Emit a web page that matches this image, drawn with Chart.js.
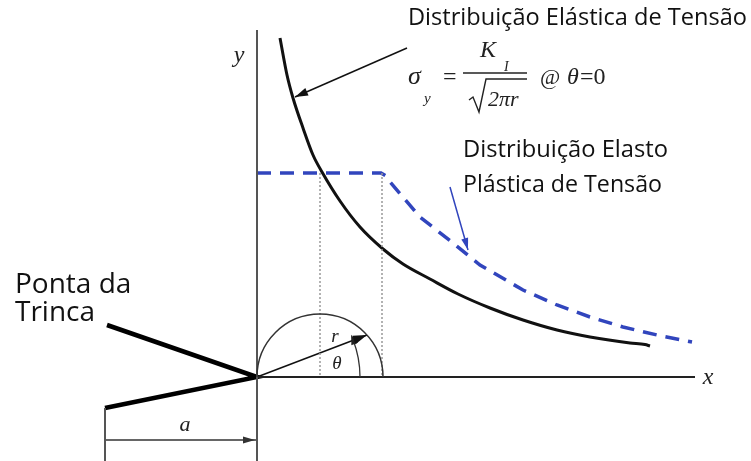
<!DOCTYPE html>
<html>
<head>
<meta charset="utf-8">
<script src="https://cdn.jsdelivr.net/npm/chart.js@4.4.0/dist/chart.umd.min.js"></script>
<style>
  html, body { margin: 0; padding: 0; background: #fff; }
</style>
</head>
<body>
<canvas id="chart" width="751" height="461"></canvas>
<script>
// stress ahead of the crack tip, x = distance from tip, y = stress
const elasticX = [2.3, 3.0, 3.6, 4.6, 5.6, 6.5, 8.3, 10.3, 12.6, 14.6, 17.3, 20.1, 23.3, 26.6, 30.0, 33.3, 37.3, 38.8, 39.3]
const elasticY = [33.9, 30.2, 27.9, 24.9, 22.2, 20.5, 17.6, 15.0, 12.8, 11.3, 9.8, 8.3, 6.9, 5.7, 4.7, 4.0, 3.4, 3.25, 3.1]
const plasticX = [0, 12.4, 12.9, 13.3, 16.3, 19.6, 22.3, 26.6, 30.0, 33.3, 36.6, 40.0, 43.5]
const plasticY = [20.4, 20.4, 20.1, 19.5, 16.0, 13.4, 11.2, 8.7, 7.2, 6.0, 5.0, 4.2, 3.5]

// geometry of the crack and the plastic zone
const crackLength = 15.2
const crackOpening = [5.2, -3.1]
const yieldStress = 20.4
const plasticRadius = 6.3
const plasticZone = 12.5
const rayEnd = [11.0, 4.2]
const xAxisEnd = 43.8
const yAxisTop = 34.7

const toPoints = (xs, ys) => xs.map((x, i) => ({ x, y: ys[i] }))

const BLUE = "#3145bd"

const seg = (data, color, width, extra = {}) => ({
  data,
  borderColor: color,
  borderWidth: width,
  pointRadius: 0,
  showLine: true,
  fill: false,
  tension: 0,
  ...extra,
})

const arrowHead = (ctx, fx, fy, tx, ty, len, half, color) => {
  const a = Math.atan2(ty - fy, tx - fx)
  ctx.save()
  ctx.fillStyle = color
  ctx.beginPath()
  ctx.moveTo(tx, ty)
  ctx.lineTo(tx - len * Math.cos(a) + half * Math.sin(a), ty - len * Math.sin(a) - half * Math.cos(a))
  ctx.lineTo(tx - len * Math.cos(a) - half * Math.sin(a), ty - len * Math.sin(a) + half * Math.cos(a))
  ctx.closePath()
  ctx.fill()
  ctx.restore()
}

const annotations = {
  id: "annotations",
  afterDatasetsDraw(chart) {
    const { ctx } = chart
    const sx = chart.scales.x
    const sy = chart.scales.y
    const px = (v) => sx.getPixelForValue(v)
    const py = (v) => sy.getPixelForValue(v)
    const ox = px(0)
    const oy = py(0)

    // plastic zone circle
    ctx.save()
    ctx.strokeStyle = "#333"
    ctx.lineWidth = 1.5
    ctx.beginPath()
    ctx.arc(px(plasticRadius), oy, px(plasticRadius) - ox, Math.PI, 2 * Math.PI)
    ctx.stroke()

    // theta arc
    const ang = Math.atan2(rayEnd[1], rayEnd[0])
    const R = px(10.3) - ox
    ctx.lineWidth = 1.3
    ctx.beginPath()
    ctx.arc(ox, oy, R, 0, -ang, true)
    ctx.stroke()
    ctx.restore()
    const ex = ox + R * Math.cos(ang)
    const ey = oy - R * Math.sin(ang)
    arrowHead(ctx, ex + Math.sin(ang) * 4, ey + Math.cos(ang) * 4, ex - Math.sin(ang) * 6, ey - Math.cos(ang) * 6, 10, 3.5, "#222")

    // arrow heads
    arrowHead(ctx, ox, oy, px(rayEnd[0]), py(rayEnd[1]), 14, 4.5, "#111")
    arrowHead(ctx, px(-crackLength), py(-6.3), ox - 2, py(-6.3), 12, 3.5, "#333")
    arrowHead(ctx, px(15.0), py(32.9), px(3.8), py(28.0), 13, 4, "#111")
    arrowHead(ctx, px(19.3), py(19.0), px(21.1), py(12.7), 12, 3.5, BLUE)

    // italic symbols
    ctx.save()
    ctx.fillStyle = "#222"
    ctx.textAlign = "center"
    ctx.textBaseline = "middle"
    ctx.font = "italic 24px 'Liberation Serif'"
    ctx.fillText("y", px(-1.8), py(32.1))
    ctx.fillText("x", px(45.1), py(-0.1))
    ctx.font = "italic 22px 'Liberation Serif'"
    ctx.fillText("a", px(-7.2), py(-4.8))
    ctx.font = "italic 19px 'Liberation Serif'"
    ctx.fillText("r", px(7.8), py(4.0))
    ctx.fillText("θ", px(8.0), py(1.3))
    ctx.restore()

    // text labels
    ctx.save()
    ctx.fillStyle = "#111"
    ctx.textAlign = "left"
    ctx.textBaseline = "alphabetic"
    ctx.font = "24px 'Open Sans'"
    ctx.fillText("Distribuição Elástica de Tensão", px(15.1), py(35.2), 339)
    ctx.fillText("Distribuição Elasto", px(20.6), py(22.0), 205)
    ctx.fillText("Plástica de Tensão", px(20.6), py(18.5), 199)
    ctx.font = "28px 'Open Sans'"
    ctx.fillText("Ponta da", px(-24.2), py(8.4), 123)
    ctx.fillText("Trinca", px(-24.2), py(5.6), 86)
    ctx.restore()

    // elastic stress formula
    const ax = px(15.1)
    const ay = py(29.3)
    ctx.save()
    ctx.fillStyle = "#222"
    ctx.strokeStyle = "#222"
    ctx.textAlign = "left"
    ctx.textBaseline = "alphabetic"
    ctx.font = "italic 26px 'Liberation Serif'"
    ctx.fillText("σ", ax, ay)
    ctx.font = "italic 15px 'Liberation Serif'"
    ctx.fillText("y", ax + 16, ay + 19)
    ctx.font = "24px 'Liberation Serif'"
    ctx.fillText("=", ax + 35, ay)
    ctx.lineWidth = 1.3
    ctx.beginPath()
    ctx.moveTo(ax + 55, ay - 11)
    ctx.lineTo(ax + 119, ay - 11)
    ctx.stroke()
    ctx.font = "italic 24px 'Liberation Serif'"
    ctx.fillText("K", ax + 72, ay - 27)
    ctx.font = "italic 14px 'Liberation Serif'"
    ctx.fillText("I", ax + 96, ay - 13)
    ctx.lineWidth = 1.4
    ctx.beginPath()
    ctx.moveTo(ax + 61, ay + 16)
    ctx.lineTo(ax + 65, ay + 13)
    ctx.lineTo(ax + 71, ay + 28)
    ctx.lineTo(ax + 78, ay - 5)
    ctx.lineTo(ax + 119, ay - 5)
    ctx.stroke()
    ctx.font = "italic 22px 'Liberation Serif'"
    ctx.fillText("2πr", ax + 80, ay + 22)
    ctx.font = "22px 'Liberation Serif'"
    ctx.fillText("@", ax + 132, ay)
    ctx.font = "italic 24px 'Liberation Serif'"
    ctx.fillText("θ", ax + 159, ay)
    ctx.font = "24px 'Liberation Serif'"
    ctx.fillText("=0", ax + 172, ay)
    ctx.restore()
  },
}

new Chart(document.getElementById("chart"), {
  type: "scatter",
  data: {
    datasets: [
      seg([{ x: 0, y: yAxisTop }, { x: 0, y: -8.4 }], "#555", 2),
      seg([{ x: 0, y: 0 }, { x: xAxisEnd, y: 0 }], "#222", 2),
      seg([{ x: -crackLength, y: crackOpening[1] }, { x: -crackLength, y: -8.4 }], "#555", 2),
      seg([{ x: -crackLength, y: -6.3 }, { x: 0, y: -6.3 }], "#333", 1.3),
      seg([{ x: -15.0, y: crackOpening[0] }, { x: 0, y: 0 }, { x: -crackLength, y: crackOpening[1] }], "#000", 4.5),
      seg([{ x: plasticRadius, y: yieldStress }, { x: plasticRadius, y: 0 }], "#999", 1.5, { borderDash: [2, 2] }),
      seg([{ x: plasticZone, y: yieldStress }, { x: plasticZone, y: 0 }], "#999", 1.5, { borderDash: [2, 2] }),
      seg([{ x: 0, y: 0 }, { x: rayEnd[0], y: rayEnd[1] }], "#111", 1.5),
      seg([{ x: 15.0, y: 32.9 }, { x: 3.8, y: 28.0 }], "#111", 1.5),
      seg([{ x: 19.3, y: 19.0 }, { x: 21.1, y: 12.7 }], BLUE, 1.5),
      seg(toPoints(elasticX, elasticY), "#111", 3, { cubicInterpolationMode: "monotone" }),
      seg(toPoints(plasticX, plasticY), BLUE, 3.5, { borderDash: [14, 9] }),
    ],
  },
  options: {
    responsive: false,
    animation: false,
    events: [],
    layout: { padding: 0 },
    plugins: {
      legend: { display: false },
      tooltip: { enabled: false },
    },
    scales: {
      x: { type: "linear", min: -25.7, max: 49.4, display: false },
      y: { type: "linear", min: -8.4, max: 37.7, display: false },
    },
  },
  plugins: [annotations],
})
</script>
</body>
</html>
